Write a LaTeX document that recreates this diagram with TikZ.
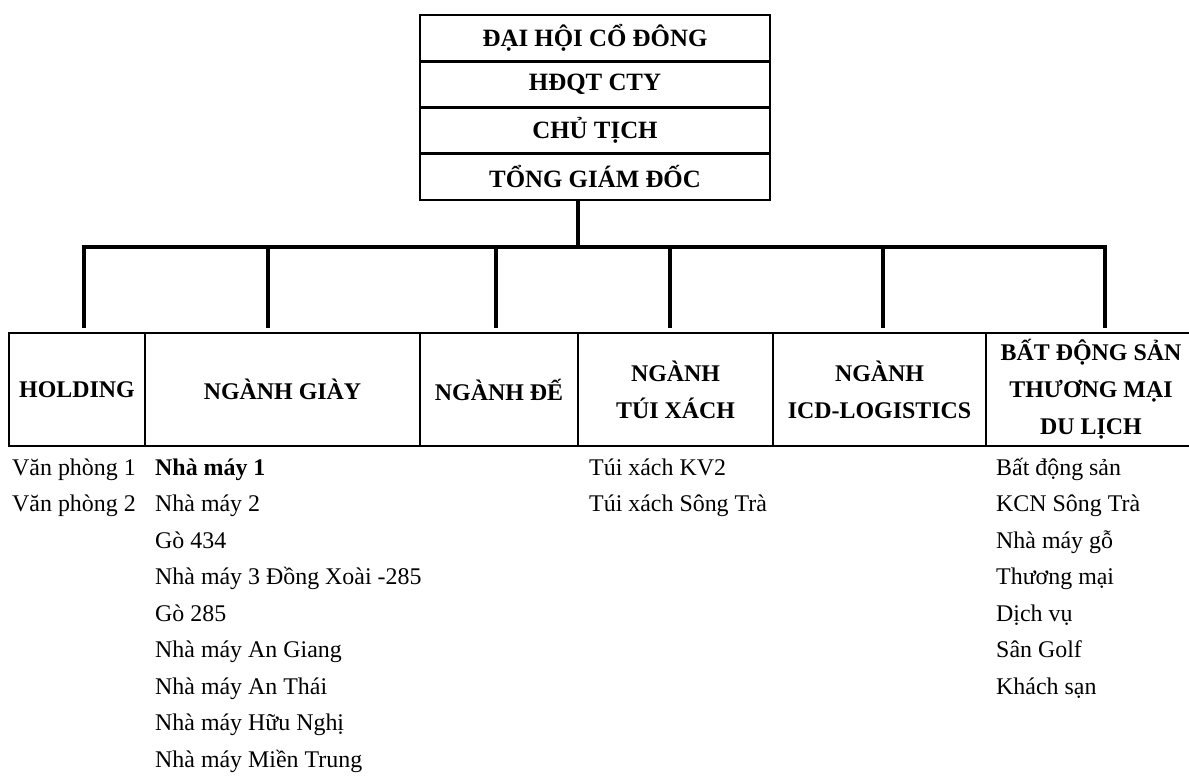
\documentclass[tikz,border=0pt]{standalone}
\usepackage{fontspec}
\setmainfont{Liberation Serif}
\begin{document}
\begin{tikzpicture}[x=1bp,y=-1bp,
  headbox/.style={draw, line width=2.8bp, minimum width=350bp, minimum height=46.25bp,
    inner sep=0pt, font=\fontsize{25}{30}\selectfont\bfseries},
  unitbox/.style={draw, line width=2bp, minimum height=113bp, inner sep=0pt,
    align=center, font=\fontsize{24}{37}\selectfont\bfseries},
  item/.style={anchor=base west, inner sep=0pt, font=\fontsize{24}{30}\selectfont},
  wire/.style={line width=3.2bp}]
\useasboundingbox (0,0) rectangle (1189,778);

% governing bodies, stacked
\node[headbox] (dhcd) at (595,38.125) {ĐẠI HỘI CỔ ĐÔNG};
\node[headbox] (hdqt) at (595,84.375) {HĐQT CTY};
\node[headbox] (ct)   at (595,130.625) {CHỦ TỊCH};
\node[headbox] (tgd)  at (595,176.875) {TỔNG GIÁM ĐỐC};

% business units
\node[unitbox, minimum width=136bp] (holding) at (77,389.5) {HOLDING};
\node[unitbox, minimum width=275bp] (giay) at (282.5,389.5) {NGÀNH GIÀY};
\node[unitbox, minimum width=158bp] (de) at (499,389.5) {NGÀNH ĐẾ};
\node[unitbox, minimum width=195bp] (tui) at (675.5,389.5) {NGÀNH\\TÚI XÁCH};
\node[unitbox, minimum width=213bp] (icd) at (879.5,389.5) {NGÀNH\\ICD-LOGISTICS};
\node[unitbox, minimum width=210bp] (bds) at (1091,389.5) {BẤT ĐỘNG SẢN\\THƯƠNG MẠI\\DU LỊCH};

% connector hub and drop points
\coordinate (hub) at (578,247);
\coordinate (d1) at (84,328);
\coordinate (d2) at (268,328);
\coordinate (d3) at (496,328);
\coordinate (d4) at (670,328);
\coordinate (d5) at (883,328);
\coordinate (d6) at (1105,328);

\draw[wire] (tgd.south -| hub) -- (hub);
\draw[wire] (d1) -- (d1 |- hub) -- (d6 |- hub) -- (d6);
\foreach \d in {d2,d3,d4,d5} \draw[wire] (\d |- hub) -- (\d);

% units under each branch
\node[item] (h1) at (12,475) {Văn phòng 1};
\node[item] (h2) at (12,511.5) {Văn phòng 2};

\node[item] (g1) at (155,475) {\bfseries Nhà máy 1};
\node[item] (g2) at (155,511.5) {Nhà máy 2};
\node[item] (g3) at (155,548) {Gò 434};
\node[item] (g4) at (155,584.5) {Nhà máy 3 Đồng Xoài -285};
\node[item] (g5) at (155,621) {Gò 285};
\node[item] (g6) at (155,657.5) {Nhà máy An Giang};
\node[item] (g7) at (155,694) {Nhà máy An Thái};
\node[item] (g8) at (155,730.5) {Nhà máy Hữu Nghị};
\node[item] (g9) at (155,767) {Nhà máy Miền Trung};

\node[item] (t1) at (589,475) {Túi xách KV2};
\node[item] (t2) at (589,511.5) {Túi xách Sông Trà};

\node[item] (b1) at (996,475) {Bất động sản};
\node[item] (b2) at (996,511.5) {KCN Sông Trà};
\node[item] (b3) at (996,548) {Nhà máy gỗ};
\node[item] (b4) at (996,584.5) {Thương mại};
\node[item] (b5) at (996,621) {Dịch vụ};
\node[item] (b6) at (996,657.5) {Sân Golf};
\node[item] (b7) at (996,694) {Khách sạn};
\end{tikzpicture}
\end{document}
